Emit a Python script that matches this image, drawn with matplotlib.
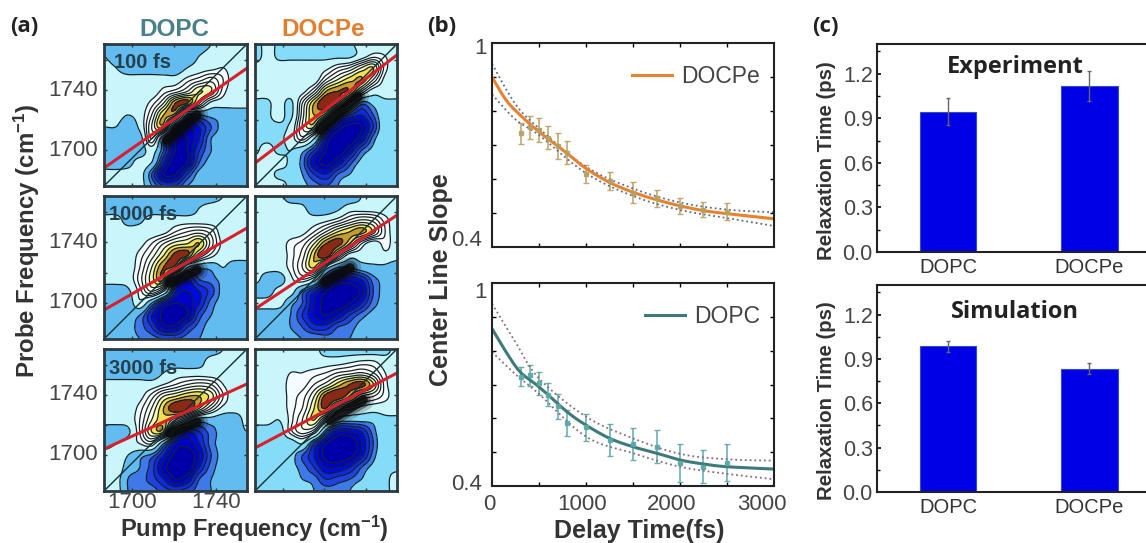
import numpy as np
import matplotlib
matplotlib.use('Agg')
import matplotlib.pyplot as plt

plt.rcParams['font.family'] = 'Liberation Sans'
plt.rcParams['mathtext.fontset'] = 'custom'
plt.rcParams['mathtext.rm'] = 'Liberation Sans'
plt.rcParams['mathtext.bf'] = 'Liberation Sans:bold'

# 2D IR spectra on a coarse 13x13 grid (top row first)
dopc_100 = [
    [-2.5, -2.5, -2.5, -2.5, -2.5, -2.5, -2.5, -2.5, -2.5, -1, 0, 0, 0],
    [-1, -2.5, -2.5, -2.5, -2.5, -2.5, -2.5, -2.5, -1, 0, 0, 0, 0],
    [0, -1, -2.5, -2.5, -2.5, -2.5, -2.5, -1, 0, 0.5, 1, 0, 0],
    [0, 0, 0, 0, 0, 0, 0, 1.5, 2.5, 3.5, 2, 0, 0],
    [0, 0, 0, 0, 0, 1.5, 2.5, 4, 6, 5, 1.5, 0, 0],
    [0, 0, 0, 0, 1.5, 4, 8, 8, 4, 0.5, 0, 0, 0],
    [0, 0, -1, 0, 3, 7, 6, -4, -3, -2.5, -2.5, -2.5, -2.5],
    [-1, -1, -2.5, -0.5, 4, 6, -6, -7, -6, -4, -2.5, -2.5, -2.5],
    [-2.5, -2.5, -2.5, -2, 3, -3, -8, -8, -6, -3, -2.5, -2.5, -2.5],
    [-2.5, -2.5, -2.5, -2.5, 0, -4, -8, -8, -5, -3, -2.5, -2.5, -2.5],
    [-2.5, -2.5, -2, 0, -1, -6, -9, -8, -4, -2.5, -2.5, -2.5, -2.5],
    [0, 0, 0, 0, -4, -8, -8, -5, -2.5, -2.5, -2.5, -2.5, -2.5],
    [0, 1, 0, 0, -3, -5, -5, -3, -2.5, -2.5, -2.5, -2.5, -2.5],
]
docpe_100 = [
    [-2.5, 0, -1.5, -1.5, -1.5, -1.5, -1.5, -1.5, -1.5, 0, 0, 0, 0],
    [-2.5, 0, -1.5, -1.5, -1.5, -1.5, -1.5, -1.5, -1.5, 0, 1.5, 1, 0],
    [0, 0, 0, 0, 0, 0, 0.5, 2, 3, 5, 6, 1.5, 0],
    [0, 0, 0, 0, 0, 0, 3, 5, 6.5, 7, 4, 0.5, 0],
    [0, 0, 0, 0, 0.5, 3, 7, 8, 7.5, 3, 0, 0, 0],
    [-1.5, -1.5, 0, -1.5, 3, 7, 9, 7, 1, -3.5, -2.5, -1.5, -1.5],
    [-1.5, -1.5, 0, -1.5, 3.5, 7, 5, -3, -5, -6, -4, -1.5, -1.5],
    [-1.5, -1.5, -1.5, -0.5, 4, 5, -4, -7, -8.5, -8, -5, -1.5, -1.5],
    [-1.5, -1.5, -1.5, 0, 2.5, -1, -7, -9, -9, -7, -3.5, -1.5, -1.5],
    [-1.5, 0, -1.5, -1, -2.5, -5, -8, -9, -7, -4, -2.5, -1.5, -1.5],
    [0, 0, 0, -1.5, -3.5, -7, -8.5, -7, -4.5, -2.5, -1.5, -1.5, -1.5],
    [0, 0, -1.5, -1.5, -3, -5, -6, -4, -3, -1.5, -1.5, -1.5, -1.5],
    [1, 0, 0, -1.5, -2.5, -3.5, -4, -3, -1.5, -1.5, -1.5, -1.5, -1.5],
]
dopc_1000 = [
    [-2.5, -2.5, -2.5, -2.5, -2.5, -2.5, -2.5, -2.5, -2.5, -2.5, -1, 0, 0],
    [-2.5, -2.5, -2.5, -2.5, -2.5, -2.5, -2.5, -2.5, -1, 0, 0, 0, 0],
    [0, 0, -2, -1.5, 0, 0, 0, 0, 0, 0, 0, 0, 0],
    [0, 0, 0, 0, 0, 0.5, 2, 3, 3.5, 2.5, 0, 0, 0],
    [0, 0, 0, 0.5, 2, 4, 5.5, 6, 7, 3.5, 0.5, 0, 0],
    [0, 0, 0, 1.5, 3.5, 6, 8.5, 8, 4, 1.5, 0, 0, 0],
    [0, 0, 0, 2, 5, 8, 7, -1, -2.5, -2.5, -1, -2.5, -2.5],
    [0, 0, 0, 2.5, 5.5, 7, -4, -6, -4, -3.5, -2.5, -2.5, -2.5],
    [-2.5, -2.5, -1.5, 1.5, 4, 1, -6, -7, -6, -4.5, -2.5, -2.5, -2.5],
    [-2.5, -2.5, -2.5, 0.5, -3, -7, -8, -7.5, -6, -3.5, -2.5, -2.5, -2.5],
    [-2.5, -2.5, -2.5, -3, -6, -8.5, -9, -8, -4.5, -3, -2.5, -2.5, -2.5],
    [-2.5, -2.5, -2.5, -3.5, -5, -7.5, -7.5, -5, -3.5, -2.5, -2.5, -2.5, -2.5],
    [-2.5, -2.5, -2.5, -3, -3.5, -4, -4, -3.5, -3, -2.5, -2.5, -2.5, -2.5],
]
docpe_1000 = [
    [0, 0, 0, -2.5, -2.5, -2.5, -2.5, -2.5, -2.5, -1, 0, 0, 0],
    [0, 0, 0, 0, -0.5, -2.5, -2.5, -1.5, 0, 0, 0, 0, 0],
    [0, 0, 0, 0, 0, 0, 0.5, 1.5, 3, 4, 3.5, 1.5, 0],
    [0, 0, 0, 0, 0.5, 2, 4, 6, 7, 7.5, 5.5, 2, 0],
    [0, 0, 0, 1.5, 2.5, 5, 8, 8.5, 6, 2, 0, 1.5, 0],
    [0, 0, 0, 1.5, 3.5, 7, 9, 4, 0, 0, 0, 0.5, 0],
    [0, 0, 0, 1.5, 4, 6, 0, -3, -3, -2, -1.5, -1.5, -2.5],
    [0, -2.5, -2.5, 0.5, 2, 0, -5, -7, -7, -6, -3.5, -2.5, -2.5],
    [-2.5, -2.5, 0, 0, -3.5, -6, -8, -9, -9, -7.5, -4, -2.5, -2.5],
    [0, 0, 0, -2.5, -4, -7, -8.5, -9, -8, -6, -3.5, -2.5, -2.5],
    [-2.5, -2.5, -2.5, -3, -5, -7, -8, -7, -5, -3.5, -2.5, -2.5, -2.5],
    [-2.5, -2.5, -2.5, -3, -4, -5.5, -5.5, -4, -3.5, -2.5, -2.5, -2.5, -2.5],
    [-2.5, -2.5, -2.5, -2.5, -3, -3, -3.5, -3.5, -3, -2.5, -2.5, -2.5, -2.5],
]
dopc_3000 = [
    [-2.5, -2.5, -2.5, -2.5, -2.5, -2.5, -2.5, -2.5, -2.5, -2.5, -1, 0, -1],
    [-2.5, -2.5, -2.5, -2.5, -2.5, -2.5, -2.5, -2.5, -2, 0, 0, 0, 0],
    [-2.5, -2.5, -2.5, -2.5, -2.5, -1, 0, 0, 0, 0, 0, 0, 0],
    [0, 0, 0, 0, 0, 1, 2, 3, 3.5, 3, 1, 0, 0],
    [0, 0, 0, 0.5, 2.5, 5, 6, 7, 7, 5.5, 2, 0, 0],
    [0, 0, 0, 1.5, 4, 7, 9, 9, 6, 3, 0.5, 0, 0],
    [0, 0, 0, 2, 5, 6.5, 4, 1, -2, -2, -2.5, -2.5, 0],
    [-2.5, -2.5, -1.5, 2, 6, 6, -3, -6, -5, -3.5, -2.5, -2.5, -1],
    [-2, -1, 0, 1, 2, -3, -7, -7.5, -6, -3.5, -2.5, -2.5, -2.5],
    [0, 0, -1, -2.5, -3.5, -6, -8.5, -9, -7, -4, -2.5, -2.5, -2.5],
    [0, 0.5, -2, -3, -4.5, -7.5, -9, -9, -6, -3.5, -2.5, -2.5, -2.5],
    [1, 0, -3, -3.5, -4.5, -6, -8, -7, -4, -3, -2.5, -2.5, -2.5],
    [0, 0, -3, -3.5, -3.5, -4.5, -5, -4.5, -3.5, -3, -2.5, -2.5, -2.5],
]
docpe_3000 = [
    [0, 0, 0, 0, 0, 0, -2.5, -2.5, -2.5, -2.5, -2.5, -2, 0],
    [0, 0, 0, 0, 0, 0, 0, 0, 0.5, 1, 1, 0, 0],
    [0, 0, 0, 1, 1, 1.5, 2, 3, 3.5, 4, 3, 1, 0],
    [0, 0, 0, 1.5, 1.5, 3, 4.5, 6.5, 8, 8.5, 6, 1.5, 0],
    [0, 0, 0, 1.5, 2.5, 5, 8.5, 9, 7, 4, 3, 1.5, 0],
    [0, 0, 0, 1.5, 3, 6, 8, 3, 1.5, 0.5, 0, 0, 0],
    [0, 0, -1, 1.5, 4, 6, 2, -2, -2.5, -2.5, -2.5, -1.5, -1.5],
    [-2.5, -2.5, -2.5, 1.5, 3.5, 2, -4, -7, -7, -6, -3.5, -1.5, -1.5],
    [-2.5, -2.5, -2.5, -2.5, -1, -5, -8, -9, -9, -7, -4, -1.5, -1.5],
    [-2.5, -2.5, -2.5, -2.5, -4, -6, -8.5, -9, -8.5, -6.5, -3.5, -1.5, -1.5],
    [-2.5, -2.5, -2, -2.5, -3.5, -5, -7, -7, -6, -4, -2.5, -1.5, -1.5],
    [-2.5, -2, -1.5, -1.5, -3, -3.5, -5, -4.5, -4, -3, -1.5, -1.5, 0],
    [-1.5, -1.5, -1.5, -1.5, -1.5, -3, -3.5, -3.5, -3, -1.5, -1.5, -1.5, 0],
]
# center line (red) ends in probe frequency, left and right edge of each panel
red_dopc = [[1688, 1754.6], [1695.2, 1749.5], [1704, 1747.4]]
red_docpe = [[1691.3, 1763.4], [1695.9, 1758], [1704.7, 1754.7]]
# black zone where the two lobes meet, pump and probe of both ends
node_pump = [[[1716.7, 1731], [1717.9, 1736.1]], [[1718.1, 1731], [1720.3, 1732.3]], [[1718.1, 1731], [1722.7, 1738.5]]]
node_probe = [[[1706.7, 1723.3], [1713.3, 1735.4]], [[1713.1, 1721.7], [1713.8, 1723]], [[1714.7, 1722], [1723.3, 1736.7]]]
delay_labels = ['100 fs', '1000 fs', '3000 fs']

# center line slope
fit_t = [0, 150, 300, 500, 800, 1000, 1250, 1500, 1750, 2000, 2250, 2500, 3000]
docpe_fit = [.900, .832, .788, .739, .675, .631, .590, .561, .539, .521, .507, .498, .483]
dopc_fit = [.865, .796, .737, .693, .619, .580, .541, .516, .497, .477, .465, .457, .450]
band_t = [0, 250, 500, 1000, 1500, 2000, 2500, 3000]
docpe_upper = [.939, .82, .749, .636, .572, .531, .51, .502]
docpe_lower = [.849, .775, .729, .617, .55, .509, .485, .462]
dopc_upper = [.939, .825, .718, .605, .541, .495, .479, .475]
dopc_lower = [.796, .73, .672, .546, .497, .457, .436, .42]
point_t = [306, 406, 502, 601, 701, 801, 1000, 1253, 1502, 1751, 2000, 2249, 2502]
docpe_points = [.734, .752, .744, .722, .697, .677, .615, .594, .56, .543, .521, .509, .504]
docpe_err = [.031, .034, .035, .034, .037, .034, .027, .027, .032, .024, .024, .022, .024]
dopc_points = [.723, .728, .703, .669, .636, .587, .573, .536, .524, .516, .469, .457, .469]
dopc_err = [.028, .031, .034, .034, .037, .039, .041, .046, .047, .049, .056, .049, .054]

# relaxation time
lipids = ['DOPC', 'DOCPe']
exp_time = [.945, 1.115]
exp_err = [.09, .10]
sim_time = [.985, .835]
sim_err = [.035, .037]

W, H = 1146, 543
fig = plt.figure(figsize=(W / 100, H / 100), dpi=100)


def px_axes(left, top, right, bottom):
    return fig.add_axes([left / W, 1 - bottom / H, (right - left) / W, (bottom - top) / H])


def px_text(x, y, s, **kw):
    kw.setdefault('ha', 'center')
    kw.setdefault('va', 'center')
    fig.text(x / W, 1 - y / H, s, **kw)


def cubic(y, n=12, axis=0):
    # catmull-rom between the typed values
    y = np.moveaxis(np.asarray(y, dtype=float), axis, 0)
    m = y.shape[0]
    pos = np.linspace(0, m - 1, (m - 1) * n + 1)
    i = np.minimum(pos.astype(int), m - 2)
    t = (pos - i).reshape((-1,) + (1,) * (y.ndim - 1))
    p0, p1, p2, p3 = y[np.maximum(i - 1, 0)], y[i], y[i + 1], y[np.minimum(i + 2, m - 1)]
    out = 0.5 * (2 * p1 + (p2 - p0) * t + (2 * p0 - 5 * p1 + 4 * p2 - p3) * t ** 2
                 + (3 * p1 - p0 - 3 * p2 + p3) * t ** 3)
    return np.moveaxis(out, 0, axis)


# ---- (a) ----
x_lim = (1686.7, 1754.8)
y_lim = (1676, 1770.7)
fill_levels = [-12, -8, -7, -6, -5, -4, -3, -1, 1, 2, 3, 4, 5, 6, 7, 8, 12]
band_colors = [['#62bcf0', '#84dcf8'], ['#62bcf0', '#62bcf0'], ['#62bcf0', '#84dcf8']]
line_levels = [-8, -7, -6, -5, -4, -3, -1, 1, 2, 3, 4, 5, 6, 7, 8]
grids = [[dopc_100, docpe_100], [dopc_1000, docpe_1000], [dopc_3000, docpe_3000]]
reds = [red_dopc, red_docpe]
col_px = [(104, 247), (255, 397)]
row_px = [(44, 186), (196, 339), (349, 491)]

for r in range(3):
    for c in range(2):
        fill_colors = ['#0000a8', '#0000c8', '#0008e0', '#0f28e6', '#2040e0', '#3f78e8', band_colors[r][c],
                       '#c8f6fb', '#f4fcff', '#ffffff', '#fffff4', '#fffff0', '#fdf8b0', '#f4e050', '#c89a30',
                       '#8a2a14']
        ax = px_axes(col_px[c][0], row_px[r][0], col_px[c][1], row_px[r][1])
        z = cubic(cubic(grids[r][c], axis=0), axis=1)
        xx = np.linspace(x_lim[0], x_lim[1], z.shape[1])
        yy = np.linspace(y_lim[1], y_lim[0], z.shape[0])
        ax.contourf(xx, yy, z, levels=fill_levels, colors=fill_colors)
        ax.contour(xx, yy, z, levels=line_levels, colors='#10222a', linewidths=0.9, linestyles='solid')
        for width, alpha in [(16, 0.2), (11, 0.4), (7, 0.85)]:
            ax.plot(node_pump[r][c], node_probe[r][c], color='#0a0a0a', lw=width, alpha=alpha, solid_capstyle='round')
        ax.plot(x_lim, y_lim, color='#10302f', lw=1)
        ax.plot(x_lim, reds[c][r], color='#d8202c', lw=2.2)
        ax.set_xlim(x_lim)
        ax.set_ylim(y_lim)
        ax.set_xticks([1700, 1720, 1740])
        ax.set_yticks([1700, 1720, 1740, 1760])
        ax.tick_params(direction='in', top=True, right=True, length=2.5, width=1, color='#333333',
                       labelbottom=False, labelleft=False)
        for s in ax.spines.values():
            s.set_linewidth(2)
            s.set_color('#2a3a40')
    ax_y = row_px[r][0]
    px_text(143, ax_y + 19, delay_labels[r], fontsize=14.5, fontweight='bold', color='#24404c')
    px_text(73, ax_y + 46, '1740', fontsize=16, color='#444444')
    px_text(73, ax_y + 106, '1700', fontsize=16, color='#444444')

px_text(132, 503, '1700', fontsize=16, color='#444444')
px_text(216, 503, '1740', fontsize=16, color='#444444')
px_text(174, 29, 'DOPC', fontsize=17.5, fontweight='bold', color='#4a8088')
px_text(323, 29, 'DOCPe', fontsize=17.5, fontweight='bold', color='#e08030')
px_text(254, 529, r'Pump Frequency (cm$\mathbf{^{-1}}$)', fontsize=17, fontweight='bold', color='#333333')
px_text(27, 241, r'Probe Frequency (cm$\mathbf{^{-1}}$)', fontsize=17.3, fontweight='bold', color='#333333',
        rotation=90)

# ---- (b) ----
slope_panels = [
    ((492, 43, 774, 247), docpe_fit, docpe_upper, docpe_lower, docpe_points, docpe_err, '#e8822c', '#b8a060',
     'DOCPe', '#5a6a90'),
    ((492, 283, 774, 486), dopc_fit, dopc_upper, dopc_lower, dopc_points, dopc_err, '#3f7a7a', '#5aa8a8',
     'DOPC', '#8a6a78'),
]
for box, fit, upper, lower, pts, err, col, pt_col, name, dot_col in slope_panels:
    ax = px_axes(*box)
    ax.errorbar(point_t, pts, yerr=err, fmt='s', ms=3.5, color=pt_col, ecolor=pt_col, elinewidth=1.2, capsize=2.5,
                capthick=1, alpha=0.9)
    ax.plot(cubic(band_t), cubic(upper), color=dot_col, lw=1.3, ls=':')
    ax.plot(cubic(band_t), cubic(lower), color=dot_col, lw=1.3, ls=':')
    ax.plot(cubic(fit_t), cubic(fit), color=col, lw=2.2, label=name)
    ax.set_xlim(0, 3000)
    ax.set_ylim(0.4, 1)
    ax.set_xticks(np.arange(500, 3000, 500))
    ax.set_yticks(np.arange(0.5, 0.95, 0.1))
    ax.tick_params(direction='in', top=True, right=True, length=3, width=1, labelbottom=False, labelleft=False)
    for s in ax.spines.values():
        s.set_linewidth(1.5)
        s.set_color('#222222')
    leg = ax.legend(loc='upper right', bbox_to_anchor=(1.028, 1), frameon=False, fontsize=16.5, handlelength=1.75,
                    handletextpad=0.4, borderaxespad=0.55, labelcolor='#444444')

px_text(481, 48, '1', fontsize=16, color='#444444')
px_text(467, 241, '0.4', fontsize=16, color='#444444')
px_text(481, 292, '1', fontsize=16, color='#444444')
px_text(467, 484, '0.4', fontsize=16, color='#444444')
px_text(489, 505, '0', fontsize=16, color='#444444')
px_text(582, 505, '1000', fontsize=16, color='#444444')
px_text(672, 505, '2000', fontsize=16, color='#444444')
px_text(762, 505, '3000', fontsize=16, color='#444444')
px_text(639, 531, 'Delay Time(fs)', fontsize=18, fontweight='bold', color='#333333')
px_text(441, 280, 'Center Line Slope', fontsize=18, fontweight='bold', color='#333333', rotation=90)

# ---- (c) ----
bar_panels = [((877, 44, 1152, 252), exp_time, exp_err, 'Experiment', 67),
              ((877, 285, 1152, 492), sim_time, sim_err, 'Simulation', 312)]
for box, vals, errs, title, title_y in bar_panels:
    ax = px_axes(*box)
    ax.bar([0, 1], vals, width=0.4, color='#0000e6', edgecolor='#3050c0', lw=0.8)
    ax.errorbar([0, 1], vals, yerr=errs, fmt='none', ecolor='#666666', elinewidth=1, capsize=1.5)
    ax.set_xlim(-0.504, 1.443)
    ax.set_ylim(0, 1.4)
    ax.set_xticks([0, 1])
    ax.set_xticklabels(lipids, fontsize=14.5, color='#333333')
    ax.set_yticks(np.arange(0, 1.3, 0.3))
    ax.set_yticks(np.arange(0.15, 1.4, 0.3), minor=True)
    ax.tick_params(axis='y', which='major', direction='in', length=3, width=1.2, labelsize=15.5,
                   labelcolor='#444444', pad=3)
    ax.tick_params(axis='y', which='minor', direction='in', length=2, width=1)
    ax.tick_params(axis='x', length=0, pad=4)
    ax.spines['right'].set_visible(False)
    for s in ['top', 'left', 'bottom']:
        ax.spines[s].set_linewidth(1.5)
        ax.spines[s].set_color('#222222')
    px_text(1015, title_y, title, fontsize=17, fontweight='bold', family='Open Sans', color='#222222')

px_text(826, 161, 'Relaxation Time (ps)', fontsize=14.7, fontweight='bold', color='#333333', rotation=90)
px_text(826, 401, 'Relaxation Time (ps)', fontsize=14.7, fontweight='bold', color='#333333', rotation=90)

px_text(24, 26, '(a)', fontsize=16, fontweight='bold', family='Open Sans', color='#222222')
px_text(442, 26, '(b)', fontsize=16, fontweight='bold', family='Open Sans', color='#222222')
px_text(825, 26, '(c)', fontsize=16, fontweight='bold', family='Open Sans', color='#222222')

fig.savefig('out.png', dpi=100)
